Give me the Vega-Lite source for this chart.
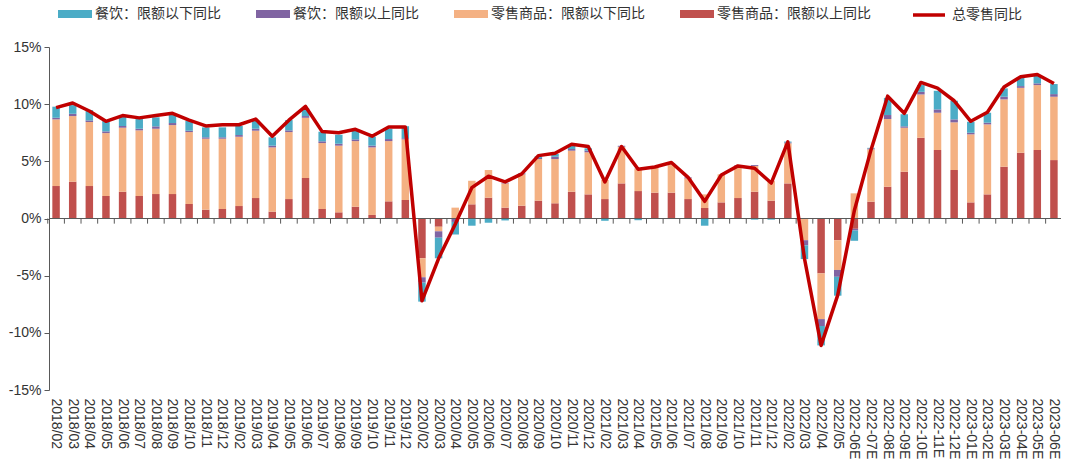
{
  "$schema": "https://vega.github.io/schema/vega-lite/v6.json",
  "width": 1012,
  "height": 343,
  "autosize": {"type": "none"},
  "padding": {"left": 49, "top": 47, "right": 19, "bottom": 80},
  "background": "white",
  "config": {"view": {"stroke": null}, "font": "Liberation Sans"},
  "data": {"values": [
    {"m": "2018/02", "零售商品：限额以上同比": 2.84, "零售商品：限额以下同比": 5.83, "餐饮：限额以上同比": 0.14, "餐饮：限额以下同比": 0.97, "总零售同比": 9.7},
    {"m": "2018/03", "零售商品：限额以上同比": 3.22, "零售商品：限额以下同比": 5.74, "餐饮：限额以上同比": 0.2, "餐饮：限额以下同比": 0.76, "总零售同比": 10.1},
    {"m": "2018/04", "零售商品：限额以上同比": 2.84, "零售商品：限额以下同比": 5.6, "餐饮：限额以上同比": 0.14, "餐饮：限额以下同比": 0.9, "总零售同比": 9.4},
    {"m": "2018/05", "零售商品：限额以上同比": 1.97, "零售商品：限额以下同比": 5.5, "餐饮：限额以上同比": 0.15, "餐饮：限额以下同比": 0.9, "总零售同比": 8.5},
    {"m": "2018/06", "零售商品：限额以上同比": 2.34, "零售商品：限额以下同比": 5.6, "餐饮：限额以上同比": 0.15, "餐饮：限额以下同比": 0.8, "总零售同比": 9.0},
    {"m": "2018/07", "零售商品：限额以上同比": 1.97, "零售商品：限额以下同比": 5.74, "餐饮：限额以上同比": 0.14, "餐饮：限额以下同比": 0.88, "总零售同比": 8.8},
    {"m": "2018/08", "零售商品：限额以上同比": 2.14, "零售商品：限额以下同比": 5.71, "餐饮：限额以上同比": 0.21, "餐饮：限额以下同比": 0.79, "总零售同比": 9.0},
    {"m": "2018/09", "零售商品：限额以上同比": 2.14, "零售商品：限额以下同比": 6.03, "餐饮：限额以上同比": 0.18, "餐饮：限额以下同比": 0.78, "总零售同比": 9.2},
    {"m": "2018/10", "零售商品：限额以上同比": 1.27, "零售商品：限额以下同比": 6.29, "餐饮：限额以上同比": 0.12, "餐饮：限额以下同比": 0.87, "总零售同比": 8.6},
    {"m": "2018/11", "零售商品：限额以上同比": 0.77, "零售商品：限额以下同比": 6.21, "餐饮：限额以上同比": 0.12, "餐饮：限额以下同比": 0.87, "总零售同比": 8.1},
    {"m": "2018/12", "零售商品：限额以上同比": 0.83, "零售商品：限额以下同比": 6.15, "餐饮：限额以上同比": 0.12, "餐饮：限额以下同比": 0.87, "总零售同比": 8.2},
    {"m": "2019/02", "零售商品：限额以上同比": 1.09, "零售商品：限额以下同比": 6.06, "餐饮：限额以上同比": 0.15, "餐饮：限额以下同比": 0.79, "总零售同比": 8.2},
    {"m": "2019/03", "零售商品：限额以上同比": 1.79, "零售商品：限额以下同比": 5.89, "餐饮：限额以上同比": 0.17, "餐饮：限额以下同比": 0.76, "总零售同比": 8.7},
    {"m": "2019/04", "零售商品：限额以上同比": 0.6, "零售商品：限额以下同比": 5.62, "餐饮：限额以上同比": 0.15, "餐饮：限额以下同比": 0.73, "总零售同比": 7.2},
    {"m": "2019/05", "零售商品：限额以上同比": 1.7, "零售商品：限额以下同比": 5.86, "餐饮：限额以上同比": 0.15, "餐饮：限额以下同比": 0.9, "总零售同比": 8.6},
    {"m": "2019/06", "零售商品：限额以上同比": 3.54, "零售商品：限额以下同比": 5.27, "餐饮：限额以上同比": 0.15, "餐饮：限额以下同比": 0.67, "总零售同比": 9.8},
    {"m": "2019/07", "零售商品：限额以上同比": 0.83, "零售商品：限额以下同比": 5.77, "餐饮：限额以上同比": 0.15, "餐饮：限额以下同比": 0.84, "总零售同比": 7.6},
    {"m": "2019/08", "零售商品：限额以上同比": 0.54, "零售商品：限额以下同比": 5.83, "餐饮：限额以上同比": 0.17, "餐饮：限额以下同比": 0.79, "总零售同比": 7.5},
    {"m": "2019/09", "零售商品：限额以上同比": 1.03, "零售商品：限额以下同比": 5.74, "餐饮：限额以上同比": 0.15, "餐饮：限额以下同比": 0.76, "总零售同比": 7.8},
    {"m": "2019/10", "零售商品：限额以上同比": 0.31, "零售商品：限额以下同比": 5.91, "餐饮：限额以上同比": 0.15, "餐饮：限额以下同比": 0.78, "总零售同比": 7.2},
    {"m": "2019/11", "零售商品：限额以上同比": 1.5, "零售商品：限额以下同比": 5.27, "餐饮：限额以上同比": 0.18, "餐饮：限额以下同比": 0.9, "总零售同比": 8.0},
    {"m": "2019/12", "零售商品：限额以上同比": 1.62, "零售商品：限额以下同比": 5.3, "餐饮：限额以上同比": 0.1, "餐饮：限额以下同比": 1.05, "总零售同比": 8.0},
    {"m": "2020/02", "零售商品：限额以上同比": -3.48, "零售商品：限额以下同比": -1.66, "餐饮：限额以上同比": -0.47, "餐饮：限额以下同比": -1.66, "总零售同比": -7.2},
    {"m": "2020/03", "零售商品：限额以上同比": -0.72, "零售商品：限额以下同比": -0.4, "餐饮：限额以上同比": -0.56, "餐饮：限额以下同比": -1.8, "总零售同比": -3.5},
    {"m": "2020/04", "零售商品：限额以上同比": 0, "零售商品：限额以下同比": 0.95, "餐饮：限额以上同比": -0.3, "餐饮：限额以下同比": -1.1, "总零售同比": -0.5},
    {"m": "2020/05", "零售商品：限额以上同比": 1.24, "零售商品：限额以下同比": 2.06, "餐饮：限额以上同比": -0.05, "餐饮：限额以下同比": -0.58, "总零售同比": 2.7},
    {"m": "2020/06", "零售商品：限额以上同比": 1.82, "零售商品：限额以下同比": 2.42, "餐饮：限额以上同比": 0, "餐饮：限额以下同比": -0.37, "总零售同比": 3.7},
    {"m": "2020/07", "零售商品：限额以上同比": 0.95, "零售商品：限额以下同比": 2.12, "餐饮：限额以上同比": 0.05, "餐饮：限额以下同比": -0.17, "总零售同比": 3.2},
    {"m": "2020/08", "零售商品：限额以上同比": 1.12, "零售商品：限额以下同比": 2.74, "餐饮：限额以上同比": 0.05, "餐饮：限额以下同比": 0.05, "总零售同比": 3.9},
    {"m": "2020/09", "零售商品：限额以上同比": 1.56, "零售商品：限额以下同比": 3.64, "餐饮：限额以上同比": 0.09, "餐饮：限额以下同比": 0.15, "总零售同比": 5.5},
    {"m": "2020/10", "零售商品：限额以上同比": 1.33, "零售商品：限额以下同比": 3.87, "餐饮：限额以上同比": 0.2, "餐饮：限额以下同比": 0.24, "总零售同比": 5.7},
    {"m": "2020/11", "零售商品：限额以上同比": 2.34, "零售商品：限额以下同比": 3.59, "餐饮：限额以上同比": 0.15, "餐饮：限额以下同比": 0.26, "总零售同比": 6.5},
    {"m": "2020/12", "零售商品：限额以上同比": 2.11, "零售商品：限额以下同比": 3.68, "餐饮：限额以上同比": 0.15, "餐饮：限额以下同比": 0.2, "总零售同比": 6.3},
    {"m": "2021/02", "零售商品：限额以上同比": 1.7, "零售商品：限额以下同比": 1.67, "餐饮：限额以上同比": 0, "餐饮：限额以下同比": -0.2, "总零售同比": 3.2},
    {"m": "2021/03", "零售商品：限额以上同比": 3.07, "零售商品：限额以下同比": 3.21, "餐饮：限额以上同比": 0.08, "餐饮：限额以下同比": 0, "总零售同比": 6.3},
    {"m": "2021/04", "零售商品：限额以上同比": 2.4, "零售商品：限额以下同比": 1.93, "餐饮：限额以上同比": 0.03, "餐饮：限额以下同比": -0.15, "总零售同比": 4.3},
    {"m": "2021/05", "零售商品：限额以上同比": 2.26, "零售商品：限额以下同比": 2.19, "餐饮：限额以上同比": 0.05, "餐饮：限额以下同比": 0, "总零售同比": 4.5},
    {"m": "2021/06", "零售商品：限额以上同比": 2.26, "零售商品：限额以下同比": 2.47, "餐饮：限额以上同比": 0.05, "餐饮：限额以下同比": 0.05, "总零售同比": 4.9},
    {"m": "2021/07", "零售商品：限额以上同比": 1.7, "零售商品：限额以下同比": 1.81, "餐饮：限额以上同比": 0.08, "餐饮：限额以下同比": 0, "总零售同比": 3.6},
    {"m": "2021/08", "零售商品：限额以上同比": 0.92, "零售商品：限额以下同比": 1.19, "餐饮：限额以上同比": 0, "餐饮：限额以下同比": -0.63, "总零售同比": 1.5},
    {"m": "2021/09", "零售商品：限额以上同比": 1.41, "零售商品：限额以下同比": 2.45, "餐饮：限额以上同比": 0, "餐饮：限额以下同比": 0, "总零售同比": 3.8},
    {"m": "2021/10", "零售商品：限额以上同比": 1.79, "零售商品：限额以下同比": 2.8, "餐饮：限额以上同比": 0.05, "餐饮：限额以下同比": 0, "总零售同比": 4.6},
    {"m": "2021/11", "零售商品：限额以上同比": 2.34, "零售商品：限额以下同比": 2.25, "餐饮：限额以上同比": 0.08, "餐饮：限额以下同比": -0.1, "总零售同比": 4.4},
    {"m": "2021/12", "零售商品：限额以上同比": 1.56, "零售商品：限额以下同比": 1.74, "餐饮：限额以上同比": 0, "餐饮：限额以下同比": -0.1, "总零售同比": 3.1},
    {"m": "2022/02", "零售商品：限额以上同比": 3.07, "零售商品：限额以下同比": 3.5, "餐饮：限额以上同比": 0.08, "餐饮：限额以下同比": 0.08, "总零售同比": 6.7},
    {"m": "2022/03", "零售商品：限额以上同比": -0.05, "零售商品：限额以下同比": -1.85, "餐饮：限额以上同比": -0.45, "餐饮：限额以下同比": -1.2, "总零售同比": -3.5},
    {"m": "2022/04", "零售商品：限额以上同比": -4.8, "零售商品：限额以下同比": -4.0, "餐饮：限额以上同比": -0.6, "餐饮：限额以下同比": -1.7, "总零售同比": -11.1},
    {"m": "2022/05", "零售商品：限额以上同比": -1.9, "零售商品：限额以下同比": -2.6, "餐饮：限额以上同比": -0.6, "餐饮：限额以下同比": -1.65, "总零售同比": -6.7},
    {"m": "2022-06E", "零售商品：限额以上同比": -0.9, "零售商品：限额以下同比": 2.2, "餐饮：限额以上同比": -0.15, "餐饮：限额以下同比": -0.9, "总零售同比": 0.7},
    {"m": "2022-07E", "零售商品：限额以上同比": 1.47, "零售商品：限额以下同比": 4.58, "餐饮：限额以上同比": 0.08, "餐饮：限额以下同比": 0.05, "总零售同比": 6.0},
    {"m": "2022-08E", "零售商品：限额以上同比": 2.78, "零售商品：限额以下同比": 5.92, "餐饮：限额以上同比": 0.35, "餐饮：限额以下同比": 1.5, "总零售同比": 10.7},
    {"m": "2022-09E", "零售商品：限额以上同比": 4.09, "零售商品：限额以下同比": 3.85, "餐饮：限额以上同比": 0.12, "餐饮：限额以下同比": 1.06, "总零售同比": 9.2},
    {"m": "2022-10E", "零售商品：限额以上同比": 7.06, "零售商品：限额以下同比": 3.79, "餐饮：限额以上同比": 0.23, "餐饮：限额以下同比": 0.59, "总零售同比": 11.9},
    {"m": "2022-11E", "零售商品：限额以上同比": 5.99, "零售商品：限额以下同比": 3.26, "餐饮：限额以上同比": 0.29, "餐饮：限额以下同比": 1.63, "总零售同比": 11.4},
    {"m": "2022-12E", "零售商品：限额以上同比": 4.24, "零售商品：限额以下同比": 4.17, "餐饮：限额以上同比": 0.26, "餐饮：限额以下同比": 1.63, "总零售同比": 10.3},
    {"m": "2023-01E", "零售商品：限额以上同比": 1.41, "零售商品：限额以下同比": 5.95, "餐饮：限额以上同比": 0.14, "餐饮：限额以下同比": 0.96, "总零售同比": 8.5},
    {"m": "2023-02E", "零售商品：限额以上同比": 2.11, "零售商品：限额以下同比": 6.12, "餐饮：限额以上同比": 0.15, "餐饮：限额以下同比": 0.87, "总零售同比": 9.3},
    {"m": "2023-03E", "零售商品：限额以上同比": 4.53, "零售商品：限额以下同比": 5.89, "餐饮：限额以上同比": 0.23, "餐饮：限额以下同比": 0.73, "总零售同比": 11.5},
    {"m": "2023-04E", "零售商品：限额以上同比": 5.75, "零售商品：限额以下同比": 5.68, "餐饮：限额以上同比": 0.15, "餐饮：限额以下同比": 0.76, "总零售同比": 12.4},
    {"m": "2023-05E", "零售商品：限额以上同比": 5.99, "零售商品：限额以下同比": 5.68, "餐饮：限额以上同比": 0.15, "餐饮：限额以下同比": 0.72, "总零售同比": 12.6},
    {"m": "2023-06E", "零售商品：限额以上同比": 5.11, "零售商品：限额以下同比": 5.54, "餐饮：限额以上同比": 0.23, "餐饮：限额以下同比": 0.88, "总零售同比": 11.8}
  ]},
  "layer": [
    {
      "transform": [{"fold": ["零售商品：限额以上同比", "零售商品：限额以下同比", "餐饮：限额以上同比", "餐饮：限额以下同比"], "as": ["series", "value"]}],
      "mark": {"type": "bar"},
      "encoding": {
        "x": {"field": "m", "type": "nominal", "sort": null, "title": null,
              "scale": {"paddingInner": 0.55, "paddingOuter": 0.2},
              "axis": {"labelAngle": 90, "ticks": false, "domain": false, "labelPadding": 8, "labelOverlap": false,
                       "labelFont": "Liberation Sans", "labelFontSize": 14, "labelColor": "#333333"}},
        "y": {"field": "value", "type": "quantitative", "stack": "zero", "title": null,
              "scale": {"domain": [-15, 15], "nice": false},
              "axis": {"values": [-15, -10, -5, 0, 5, 10, 15], "labelExpr": "datum.value + '%'", "grid": false,
                       "domainColor": "#595959", "tickColor": "#595959", "tickSize": 5, "labelPadding": 3,
                       "labelFont": "Liberation Sans", "labelFontSize": 14, "labelColor": "#333333"}},
        "fill": {"field": "series", "type": "nominal",
                 "scale": {"domain": ["餐饮：限额以下同比", "餐饮：限额以上同比", "零售商品：限额以下同比", "零售商品：限额以上同比"],
                           "range": ["#4BACC6", "#8064A2", "#F4B183", "#C0504D"]},
                 "legend": {"orient": "none", "legendX": 9, "legendY": -50, "direction": "horizontal", "title": null,
                            "symbolType": "M-1,-0.24H1V0.24H-1Z", "symbolSize": 1156, "symbolStrokeWidth": 0,
                            "labelFont": "Noto Sans CJK SC", "labelFontSize": 14, "labelColor": "#333333",
                            "columnPadding": 35, "labelOffset": 3, "labelLimit": 400, "padding": 0}},
        "order": {"field": "series", "sort": "ascending"}
      }
    },
    {
      "mark": {"type": "rule", "color": "#595959", "strokeWidth": 1},
      "encoding": {"y": {"datum": 0, "type": "quantitative"}}
    },
    {
      "mark": {"type": "rule", "color": "#595959", "strokeWidth": 1, "xOffset": -8.3},
      "encoding": {
        "x": {"field": "m", "type": "nominal", "sort": null},
        "y": {"datum": 0, "type": "quantitative"},
        "y2": {"datum": -0.45}
      }
    },
    {
      "mark": {"type": "line", "strokeWidth": 3.5, "strokeJoin": "round"},
      "encoding": {
        "x": {"field": "m", "type": "nominal", "sort": null},
        "y": {"field": "总零售同比", "type": "quantitative"},
        "stroke": {"datum": "总零售同比", "type": "nominal",
                   "scale": {"range": ["#C00000"]},
                   "legend": {"orient": "none", "legendX": 862, "legendY": -50, "title": null,
                              "symbolType": "stroke", "symbolSize": 1024, "symbolStrokeWidth": 3.5,
                              "labelFont": "Noto Sans CJK SC", "labelFontSize": 14, "labelColor": "#333333",
                              "labelOffset": 5, "padding": 0}}
      }
    }
  ]
}
